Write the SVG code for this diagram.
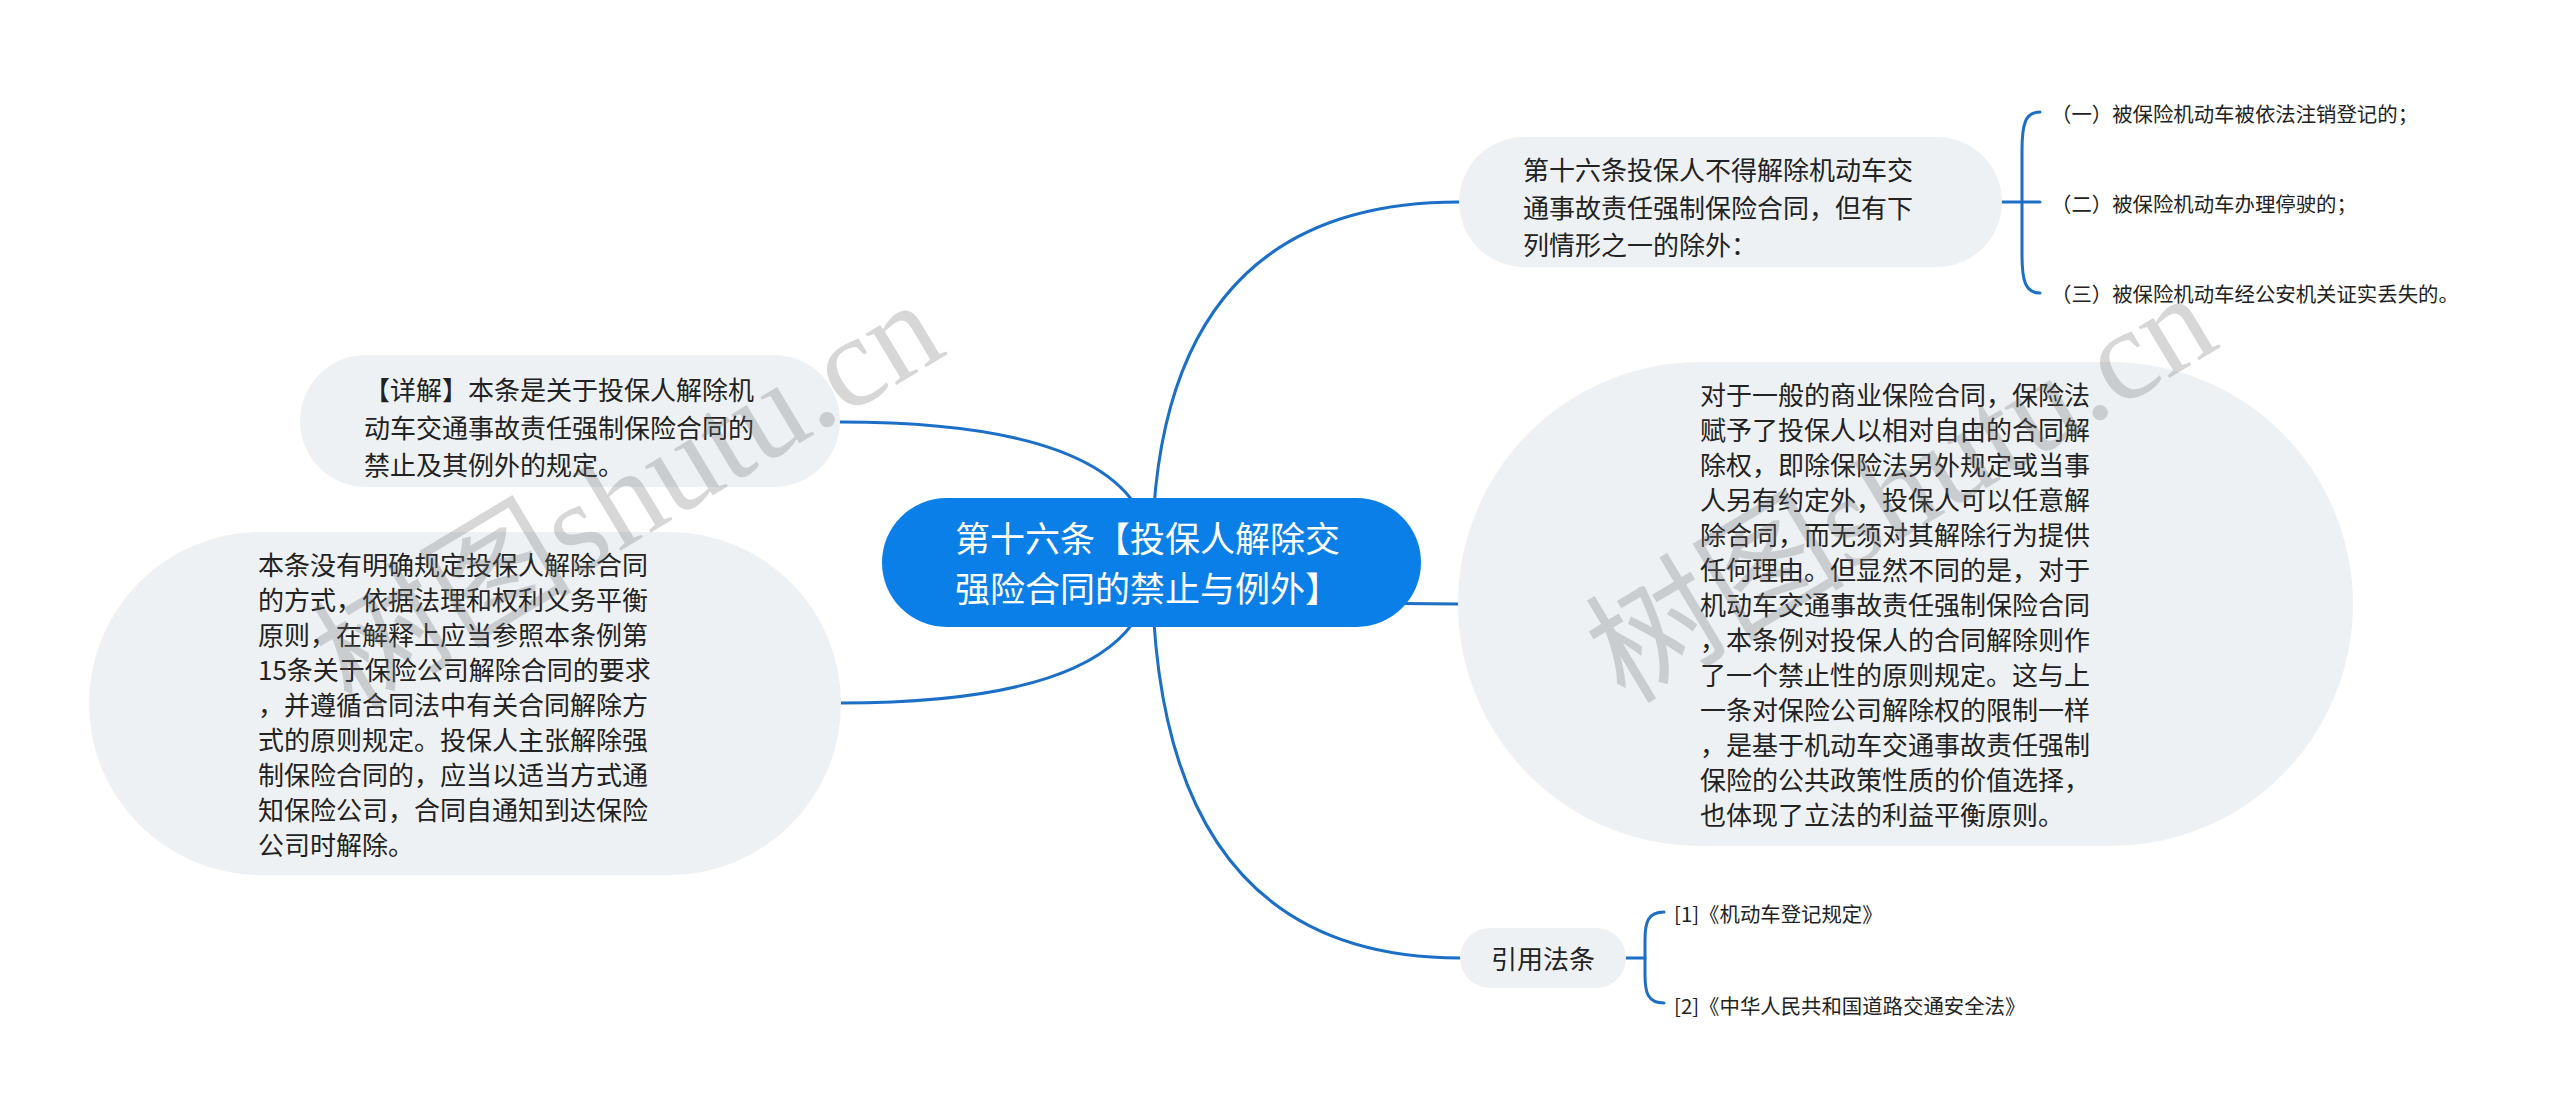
<svg xmlns="http://www.w3.org/2000/svg" width="2560" height="1115" viewBox="0 0 2560 1115">
<style>
.bg{fill:#ffffff}
.node{fill:#eef1f4}
.root{fill:#0b7fe8}
.edge{fill:none;stroke:#1c6fc7;stroke-width:3;stroke-linecap:round}
.t{font-family:"Noto Sans CJK SC","Noto Sans",sans-serif;fill:#222222}
.t26{font-size:26px}
.t20{font-size:20.4px}
.rt{font-family:"Noto Sans CJK SC","Noto Sans",sans-serif;font-size:35px;fill:#ffffff}
.wm{font-family:"Liberation Serif","Noto Sans CJK SC",serif;font-size:130px;fill:#6e6e6e;fill-opacity:0.28}
</style>
<rect class="bg" x="0" y="0" width="2560" height="1115"/>
<g id="connectors">
<path class="edge" d="M1152,562 Q1152,202 1459,202"/>
<path class="edge" d="M1152,562 Q1152,604 1458,604"/>
<path class="edge" d="M1152,562 Q1152,958 1460,958"/>
<path class="edge" d="M1152,562 Q1152,422 840,422"/>
<path class="edge" d="M1152,562 Q1152,703 841,703"/>
<path class="edge" d="M2002,202 H2040"/>
<path class="edge" d="M2040,112 C2025,112 2022,125 2022,150 L2022,255 C2022,280 2025,293 2040,293"/>
<path class="edge" d="M1626,958 H1645"/>
<path class="edge" d="M1664,912 C1648,912 1645,922 1645,940 L1645,975 C1645,993 1648,1003 1664,1003"/>
</g>
<g id="root">
<rect class="root" x="882" y="498" width="539" height="129" rx="64.5" ry="64.5"/>
<text class="rt" x="955" y="552">第十六条【投保人解除交</text>
<text class="rt" x="955" y="602">强险合同的禁止与例外】</text>
</g>
<g id="node-article">
<rect class="node" x="1459" y="137" width="543" height="130" rx="65" ry="65"/>
<text class="t t26" x="1523" y="180">第十六条投保人不得解除机动车交</text>
<text class="t t26" x="1523" y="217.5">通事故责任强制保险合同，但有下</text>
<text class="t t26" x="1523" y="255">列情形之一的除外：</text>
</g>
<g id="item-1"><text class="t t20" x="2051" y="122">（一）被保险机动车被依法注销登记的；</text></g>
<g id="item-2"><text class="t t20" x="2051" y="212">（二）被保险机动车办理停驶的；</text></g>
<g id="item-3"><text class="t t20" x="2051" y="302">（三）被保险机动车经公安机关证实丢失的。</text></g>
<g id="node-analysis">
<rect class="node" x="1458" y="362" width="895" height="484" rx="242" ry="242"/>
<text class="t t26" x="1700" y="405">对于一般的商业保险合同，保险法</text>
<text class="t t26" x="1700" y="440">赋予了投保人以相对自由的合同解</text>
<text class="t t26" x="1700" y="475">除权，即除保险法另外规定或当事</text>
<text class="t t26" x="1700" y="510">人另有约定外，投保人可以任意解</text>
<text class="t t26" x="1700" y="545">除合同，而无须对其解除行为提供</text>
<text class="t t26" x="1700" y="580">任何理由。但显然不同的是，对于</text>
<text class="t t26" x="1700" y="615">机动车交通事故责任强制保险合同</text>
<text class="t t26" x="1700" y="650">，本条例对投保人的合同解除则作</text>
<text class="t t26" x="1700" y="685">了一个禁止性的原则规定。这与上</text>
<text class="t t26" x="1700" y="720">一条对保险公司解除权的限制一样</text>
<text class="t t26" x="1700" y="755">，是基于机动车交通事故责任强制</text>
<text class="t t26" x="1700" y="790">保险的公共政策性质的价值选择，</text>
<text class="t t26" x="1700" y="825">也体现了立法的利益平衡原则。</text>
</g>
<g id="node-refs">
<rect class="node" x="1460" y="928" width="166" height="60" rx="30" ry="30"/>
<text class="t t26" x="1543" y="969" text-anchor="middle">引用法条</text>
</g>
<g id="ref-1"><text class="t t20" x="1674" y="922">[1]《机动车登记规定》</text></g>
<g id="ref-2"><text class="t t20" x="1674" y="1014">[2]《中华人民共和国道路交通安全法》</text></g>
<g id="node-explain">
<rect class="node" x="300" y="355" width="540" height="132" rx="66" ry="66"/>
<text class="t t26" x="364" y="400">【详解】本条是关于投保人解除机</text>
<text class="t t26" x="364" y="438">动车交通事故责任强制保险合同的</text>
<text class="t t26" x="364" y="475">禁止及其例外的规定。</text>
</g>
<g id="node-method">
<rect class="node" x="89" y="532" width="752" height="343" rx="171.5" ry="171.5"/>
<text class="t t26" x="258" y="575">本条没有明确规定投保人解除合同</text>
<text class="t t26" x="258" y="610">的方式，依据法理和权利义务平衡</text>
<text class="t t26" x="258" y="645">原则，在解释上应当参照本条例第</text>
<text class="t t26" x="258" y="680">15条关于保险公司解除合同的要求</text>
<text class="t t26" x="258" y="715">，并遵循合同法中有关合同解除方</text>
<text class="t t26" x="258" y="750">式的原则规定。投保人主张解除强</text>
<text class="t t26" x="258" y="785">制保险合同的，应当以适当方式通</text>
<text class="t t26" x="258" y="820">知保险公司，合同自通知到达保险</text>
<text class="t t26" x="258" y="855">公司时解除。</text>
</g>
<g id="watermarks">
<text class="wm" x="352" y="712" transform="rotate(-31 352 712)">树图shutu.cn</text>
<text class="wm" x="1625" y="705" transform="rotate(-31 1625 705)">树图shutu.cn</text>
</g>
</svg>
